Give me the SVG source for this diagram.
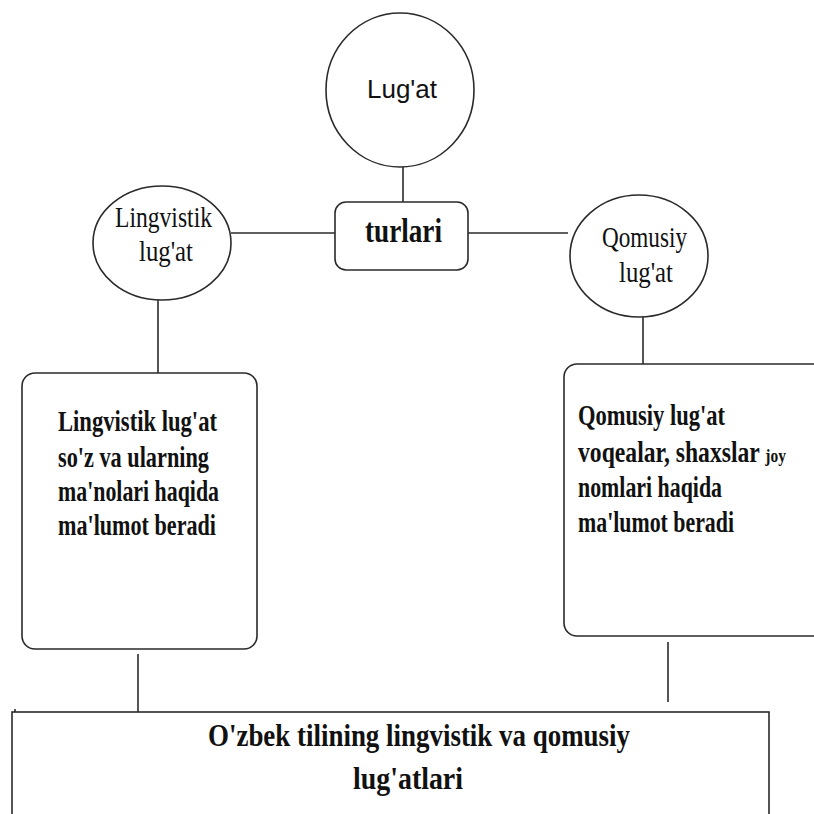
<svg xmlns="http://www.w3.org/2000/svg" width="814" height="814" viewBox="0 0 814 814">
  <style>
    .shape { fill: #ffffff; stroke: #2a2a2a; stroke-width: 1.6; }
    .link { stroke: #2a2a2a; stroke-width: 1.6; fill: none; }
    .sans { font-family: "Liberation Sans", Arial, sans-serif; fill: #111; }
    .serif { font-family: "Liberation Serif", "Times New Roman", serif; fill: #111; }
    .bold { font-weight: bold; }
  </style>
  <rect width="814" height="814" fill="#ffffff"/>

  <!-- connectors -->
  <g id="connectors">
    <line class="link" x1="403" y1="167" x2="403" y2="202"/>
    <line class="link" x1="231" y1="233" x2="335" y2="233"/>
    <line class="link" x1="468" y1="233" x2="568" y2="233"/>
    <line class="link" x1="158" y1="300" x2="158" y2="373"/>
    <line class="link" x1="643" y1="317" x2="643" y2="364"/>
    <line class="link" x1="138" y1="654" x2="138" y2="718"/>
    <line class="link" x1="668" y1="642" x2="668" y2="702"/>
    <line class="link" x1="15" y1="709" x2="15" y2="713"/>
  </g>

  <g id="lugat">
    <ellipse class="shape" cx="400" cy="90" rx="74" ry="77"/>
    <text class="sans" x="402" y="98" font-size="26" text-anchor="middle">Lug'at</text>
  </g>

  <g id="turlari">
    <rect class="shape" x="335" y="202" width="133" height="68" rx="11"/>
    <text class="serif bold" x="365" y="242" font-size="33" textLength="77" lengthAdjust="spacingAndGlyphs">turlari</text>
  </g>

  <g id="lingvistik">
    <ellipse class="shape" cx="162" cy="243" rx="69" ry="57"/>
    <text class="serif" x="115" y="227" font-size="30" textLength="97" lengthAdjust="spacingAndGlyphs">Lingvistik</text>
    <text class="serif" x="139" y="261" font-size="30" textLength="54" lengthAdjust="spacingAndGlyphs">lug'at</text>
  </g>

  <g id="qomusiy">
    <ellipse class="shape" cx="639" cy="256" rx="69" ry="61"/>
    <text class="serif" x="602" y="247" font-size="30" textLength="85" lengthAdjust="spacingAndGlyphs">Qomusiy</text>
    <text class="serif" x="619" y="282" font-size="30" textLength="54" lengthAdjust="spacingAndGlyphs">lug'at</text>
  </g>

  <g id="lingvistik-izoh">
    <rect class="shape" x="22" y="373" width="235" height="276" rx="13"/>
    <g class="serif bold" font-size="29">
      <text x="58" y="431" textLength="159" lengthAdjust="spacingAndGlyphs">Lingvistik lug'at</text>
      <text x="58" y="467" textLength="151" lengthAdjust="spacingAndGlyphs">so'z va ularning</text>
      <text x="58" y="501" textLength="161" lengthAdjust="spacingAndGlyphs">ma'nolari haqida</text>
      <text x="58" y="535" textLength="158" lengthAdjust="spacingAndGlyphs">ma'lumot beradi</text>
    </g>
  </g>

  <g id="qomusiy-izoh">
    <rect class="shape" x="564" y="364" width="270" height="272" rx="13"/>
    <g class="serif bold" font-size="29">
      <text x="578" y="425" textLength="147" lengthAdjust="spacingAndGlyphs">Qomusiy lug'at</text>
      <text x="578" y="462" textLength="208" lengthAdjust="spacingAndGlyphs">voqealar, shaxslar <tspan font-size="19">joy</tspan></text>
      <text x="578" y="497" textLength="144" lengthAdjust="spacingAndGlyphs">nomlari haqida</text>
      <text x="578" y="532" textLength="156" lengthAdjust="spacingAndGlyphs">ma'lumot beradi</text>
    </g>
  </g>

  <g id="ozbek-lugatlari">
    <rect class="shape" x="12" y="712" width="757" height="130"/>
    <g class="serif bold" font-size="31">
      <text x="208" y="746" textLength="422" lengthAdjust="spacingAndGlyphs">O'zbek tilining lingvistik va qomusiy</text>
      <text x="353" y="789" textLength="110" lengthAdjust="spacingAndGlyphs">lug'atlari</text>
    </g>
  </g>
</svg>
